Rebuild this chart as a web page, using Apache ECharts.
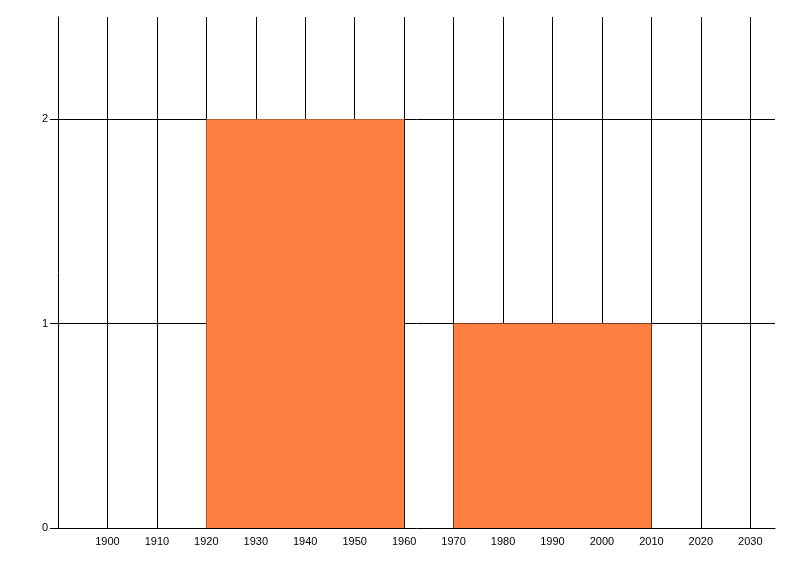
<!DOCTYPE html>
<html lang="en">
<head>
	<meta charset="UTF-8">
	<title>Chart</title>
	<style>
		html, body { margin: 0; padding: 0; background: #fff; }
	</style>
</head>
<body>
	<div id="container" style="width: 800px;height:576px;"></div>

	<script src="https://cdn.jsdelivr.net/npm/echarts@6/dist/echarts.min.js"></script>
	<script>
        // bars: [from year, to year, count]
        var barStart = [1920, 1970];
        var barEnd = [1960, 2010];
        var barValue = [2, 1];
        var yTicks = [0, 1, 2];

        var barData = [];
        for (var i = 0; i < barStart.length; i++) {
            barData.push([barStart[i], barEnd[i], barValue[i]]);
        }

        var labelFont = 'Liberation Sans, Arial, sans-serif';

        var option = {
            animation: false,
            backgroundColor: '#fff',
            grid: {
                left: 58,
                right: 25,
                top: 17,
                bottom: 48
            },
            xAxis: {
                type: 'value',
                min: 1890,
                max: 2035,
                interval: 10,
                axisLine: { show: true, lineStyle: { color: '#000', width: 1 } },
                axisTick: { show: false },
                axisLabel: {
                    color: '#000',
                    fontFamily: labelFont,
                    fontSize: 11,
                    margin: 8,
                    showMinLabel: false,
                    showMaxLabel: false,
                    formatter: function (v) { return v % 10 === 0 && v > 1890 ? String(v) : ''; }
                },
                splitLine: {
                    show: true,
                    showMinLine: false,
                    showMaxLine: false,
                    lineStyle: { color: '#000', width: 1 }
                }
            },
            yAxis: {
                type: 'value',
                min: 0,
                max: 2.5,
                interval: 1,
                axisLine: { show: true, lineStyle: { color: '#000', width: 1 } },
                axisTick: { show: true, length: 8, lineStyle: { color: '#000' } },
                axisLabel: {
                    color: '#000',
                    fontFamily: labelFont,
                    fontSize: 11,
                    margin: 10,
                    showMaxLabel: false,
                    formatter: function (v) { return yTicks.indexOf(v) >= 0 ? String(v) : ''; }
                },
                splitLine: {
                    show: true,
                    showMinLine: false,
                    showMaxLine: false,
                    lineStyle: { color: '#000', width: 1 }
                }
            },
            series: [{
                type: 'custom',
                data: barData,
                encode: { x: [0, 1], y: 2 },
                renderItem: function (params, api) {
                    var p0 = api.coord([api.value(0), api.value(2)]);
                    var p1 = api.coord([api.value(1), 0]);
                    return {
                        type: 'rect',
                        shape: { x: p0[0], y: p0[1], width: p1[0] - p0[0], height: p1[1] - p0[1] },
                        style: { fill: '#FF8040' }
                    };
                }
            }]
        };
        var myChart = echarts.init(document.getElementById('container'));
        myChart.setOption(option);
    </script>
</body>
</html>
